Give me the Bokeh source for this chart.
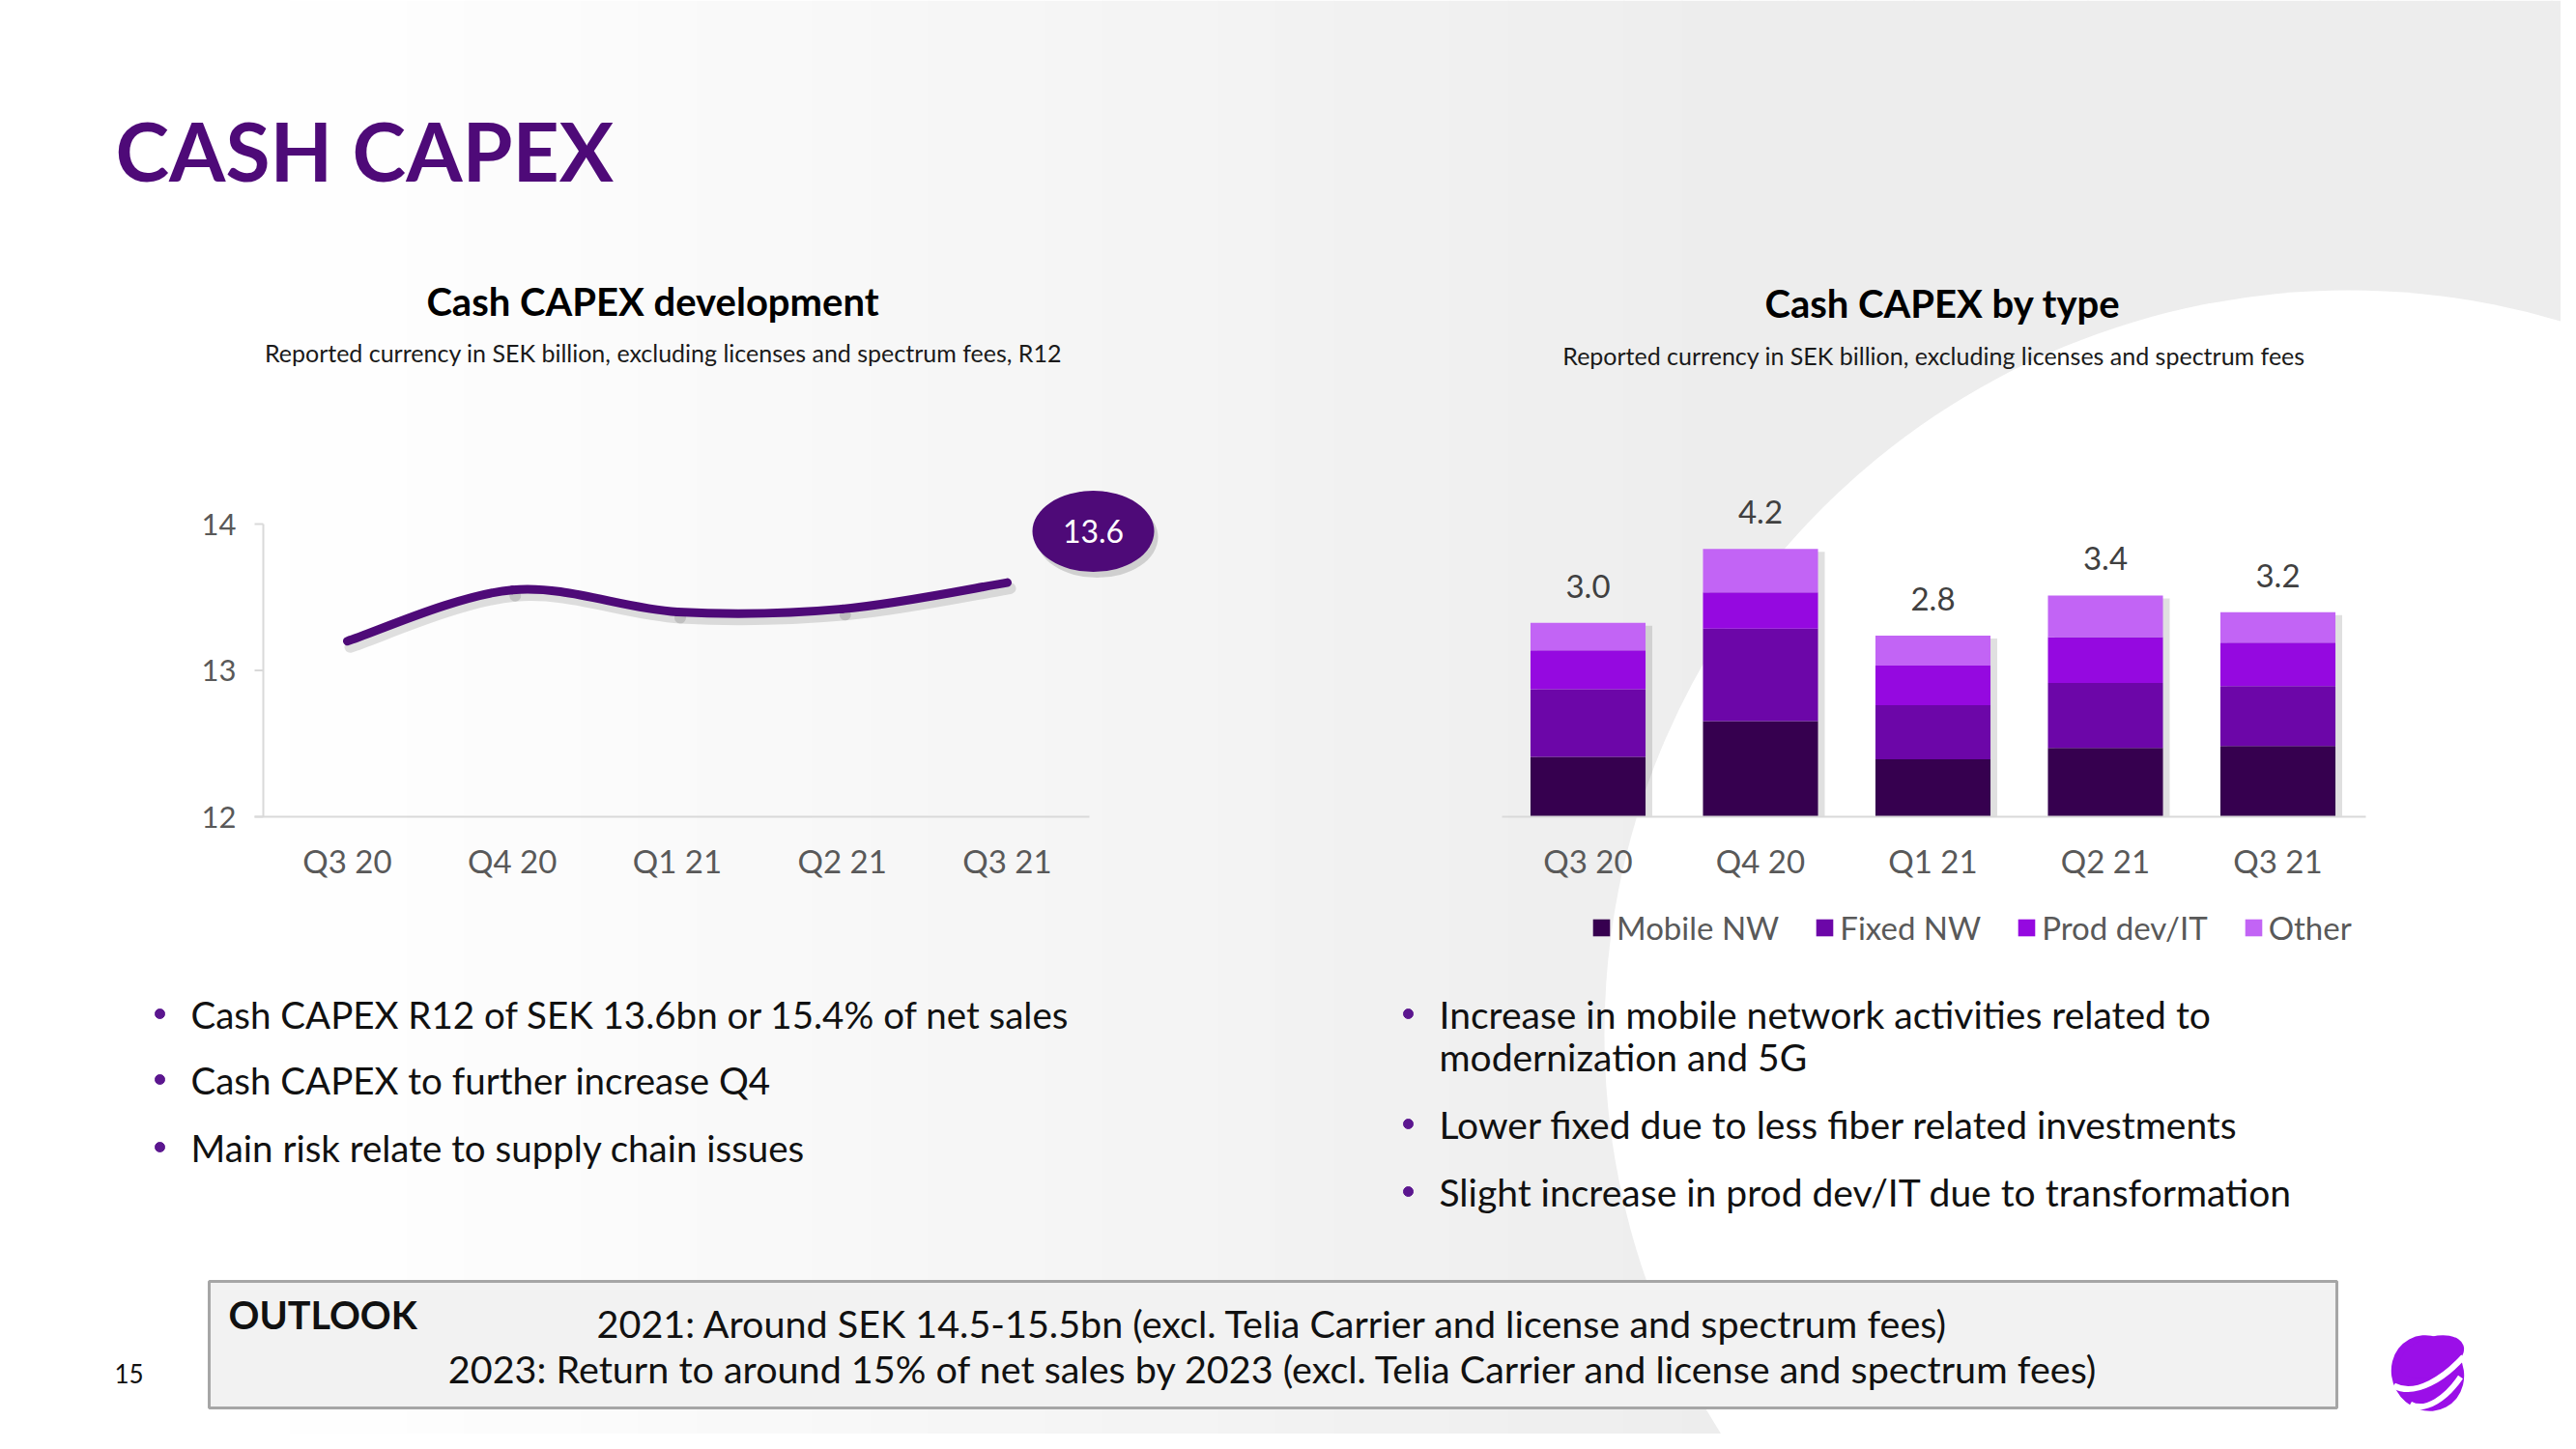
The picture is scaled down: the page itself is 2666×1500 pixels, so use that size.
import numpy as np
from bokeh.plotting import figure
from bokeh.models import Range1d, Legend, LegendItem, ColumnDataSource
from bokeh.core.properties import value
from bokeh.embed import file_html
from bokeh.resources import INLINE

# ---------------- data ----------------
quarters = ["Q3 20", "Q4 20", "Q1 21", "Q2 21", "Q3 21"]
capex_r12 = [13.2, 13.55, 13.4, 13.42, 13.6]
line_ticks = [12, 13, 14]

mobile_nw = [0.94, 1.50, 0.90, 1.08, 1.11]
fixed_nw = [1.06, 1.45, 0.85, 1.02, 0.94]
prod_dev_it = [0.61, 0.57, 0.62, 0.72, 0.68]
other = [0.43, 0.68, 0.47, 0.65, 0.48]
bar_totals = [3.0, 4.2, 2.8, 3.4, 3.2]
series_names = ["Mobile NW", "Fixed NW", "Prod dev/IT", "Other"]

page_title = "CASH CAPEX"
left_title = "Cash CAPEX development"
left_sub = "Reported currency in SEK billion, excluding licenses and spectrum fees, R12"
right_title = "Cash CAPEX by type"
right_sub = "Reported currency in SEK billion, excluding licenses and spectrum fees"
left_bullets = [
    ["Cash CAPEX R12 of SEK 13.6bn or 15.4% of net sales"],
    ["Cash CAPEX to further increase Q4"],
    ["Main risk relate to supply chain issues"],
]
right_bullets = [
    ["Increase in mobile network activities related to", "modernization and 5G"],
    ["Lower fixed due to less fiber related investments"],
    ["Slight increase in prod dev/IT due to transformation"],
]
outlook_head = "OUTLOOK"
outlook_lines = [
    "2021: Around SEK 14.5-15.5bn (excl. Telia Carrier and license and spectrum fees)",
    "2023: Return to around 15% of net sales by 2023 (excl. Telia Carrier and license and spectrum fees)",
]
page_number = "15"

# ---------------- styles ----------------
FONT = value("Lato")
PURPLE_DARK = "#4E0A78"
SERIES_COLORS = ["#36004F", "#6C06A8", "#9509E0", "#C264F5"]
GREY_TXT = "#595959"
AXIS_GREY = "#D9D9D9"

W, H = 2650, 1484
OX, OY = 0, 0

p = figure(width=W, height=H, x_range=Range1d(OX, OX + W), y_range=Range1d(OY + H, OY),
           output_backend="svg", toolbar_location=None, min_border=0,
           x_axis_type=None, y_axis_type=None)
p.outline_line_color = None
p.background_fill_color = "white"
p.border_fill_color = "white"


def lin_range(v0, px0, v1, px1, lo_px, hi_px):
    k = (v1 - v0) / (px1 - px0)
    return Range1d(v0 + (lo_px - px0) * k, v0 + (hi_px - px0) * k)


# line chart geometry (page px)
LX0, LXSTEP = 359, 170.75
LY12, LY14 = 845, 542
# bar chart geometry
BX0, BXSTEP = 1643, 178.5
BY0, BYUNIT = 845, 66.0

p.extra_x_ranges = {
    "lx": lin_range(0, LX0, 4, LX0 + 4 * LXSTEP, OX, OX + W),
    "bx": lin_range(0, BX0, 4, BX0 + 4 * BXSTEP, OX, OX + W),
}
p.extra_y_ranges = {
    "ly": lin_range(12, LY12, 14, LY14, OY + H, OY),
    "by": lin_range(0, BY0, 4, BY0 - 4 * BYUNIT, OY + H, OY),
}


def txt(x, y, s, size, color="#000000", align="left", bold=False, xr="default", yr="default", **kw):
    p.text(x=x, y=y, text=s, text_font=FONT, text_font_size=value(f"{size}px"),
           text_color=color, text_align=align, text_baseline="middle",
           text_font_style="bold" if bold else "normal",
           x_range_name=xr, y_range_name=yr, **kw)


# ---------------- background ----------------
edges = np.arange(0, 2700, 60)
greys = []
for e in edges:
    t = min(max((e - 250) / 1500.0, 0), 1)
    g = int(round(255 - 18 * t))
    greys.append("#%02x%02x%02x" % (g, g, g))
p.quad(left=edges, right=edges + 61, top=0, bottom=1500, fill_color=greys, line_color=None)
p.ellipse(x=[2430], y=[1070], width=[1540], height=[1540], fill_color="white", line_color=None)

# ---------------- titles ----------------
txt([119], [155], [page_title], 84, color=PURPLE_DARK, bold=True)
txt([675], [311], [left_title], 40, bold=True, align="center")
txt([686], [364], [left_sub], 25, align="center", color="#1a1a1a")
txt([2010], [313], [right_title], 40, bold=True, align="center")
txt([2001], [367], [right_sub], 25, align="center", color="#1a1a1a")

# ---------------- line chart ----------------
yt = np.array(line_ticks, dtype=float)
p.segment(x0=[272], y0=[yt.min()], x1=[272], y1=[yt.max()], line_color=AXIS_GREY, line_width=2,
          y_range_name="ly")
p.segment(x0=[263] * len(yt), y0=yt, x1=[272] * len(yt), y1=yt, line_color=AXIS_GREY, line_width=2,
          y_range_name="ly")
p.segment(x0=[263], y0=[yt.min()], x1=[1127], y1=[yt.min()], line_color=AXIS_GREY, line_width=2,
          y_range_name="ly")
txt([244] * len(yt), list(yt), [str(int(v)) for v in yt], 31, color=GREY_TXT, align="right", yr="ly")
txt(list(range(len(quarters))), [890] * len(quarters), quarters, 33, color=GREY_TXT, align="center", xr="lx")

# smooth curve through the data points (Catmull-Rom -> cubic Bezier)
n = len(capex_r12)
P = np.column_stack([np.arange(n, dtype=float), np.array(capex_r12, dtype=float)])
Pe = np.vstack([P[0], P, P[-1]])
seg = {k: [] for k in ["x0", "y0", "x1", "y1", "cx0", "cy0", "cx1", "cy1"]}
for i in range(n - 1):
    p0, p1, p2, p3 = Pe[i], Pe[i + 1], Pe[i + 2], Pe[i + 3]
    c0 = p1 + (p2 - p0) / 6.0
    c1 = p2 - (p3 - p1) / 6.0
    seg["x0"].append(p1[0]); seg["y0"].append(p1[1])
    seg["x1"].append(p2[0]); seg["y1"].append(p2[1])
    seg["cx0"].append(c0[0]); seg["cy0"].append(c0[1])
    seg["cx1"].append(c1[0]); seg["cy1"].append(c1[1])
# shadow (offset a few px right/down)
dx = 3 / LXSTEP
dy = -6 / ((LY12 - LY14) / 2.0)
sh = {k: (np.array(v) + (dx if k.startswith(("x", "cx")) else dy)) for k, v in seg.items()}
p.bezier(source=ColumnDataSource(sh), x0="x0", y0="y0", x1="x1", y1="y1", cx0="cx0", cy0="cy0",
         cx1="cx1", cy1="cy1", line_color="#000000", line_alpha=0.12, line_width=12, line_cap="round",
         x_range_name="lx", y_range_name="ly")
p.bezier(source=ColumnDataSource(seg), x0="x0", y0="y0", x1="x1", y1="y1", cx0="cx0", cy0="cy0",
         cx1="cx1", cy1="cy1", line_color=PURPLE_DARK, line_width=9, line_cap="round",
         x_range_name="lx", y_range_name="ly")

# last value bubble
last_i = n - 1
bub_x = last_i + 89 / LXSTEP
bub_y = capex_r12[-1] + 53 / ((LY12 - LY14) / 2.0)
p.ellipse(x=[bub_x + 4 / LXSTEP], y=[bub_y - 6 / 151.5], width=[126], height=[84], width_units="screen",
          height_units="screen", fill_color="#000000", fill_alpha=0.15, line_color=None,
          x_range_name="lx", y_range_name="ly")
p.ellipse(x=[bub_x], y=[bub_y], width=[126], height=[84], width_units="screen", height_units="screen",
          fill_color=PURPLE_DARK, line_color=None, x_range_name="lx", y_range_name="ly")
txt([bub_x], [bub_y], [f"{capex_r12[-1]:.1f}"], 32, color="white", align="center", xr="lx", yr="ly")

# ---------------- bar chart ----------------
xb = np.arange(len(quarters), dtype=float)
stack = np.vstack([mobile_nw, fixed_nw, prod_dev_it, other])
tops = stack.sum(axis=0)
p.vbar(x=xb + 7 / BXSTEP, top=tops - 3 / BYUNIT, bottom=0, width=0.667, fill_color="#000000",
       fill_alpha=0.12, line_color=None, x_range_name="bx", y_range_name="by")
src = ColumnDataSource(dict(x=xb, mobile=mobile_nw, fixed=fixed_nw, prod=prod_dev_it, other=other))
rs = p.vbar_stack(["mobile", "fixed", "prod", "other"], x="x", width=0.667, source=src,
                  fill_color=SERIES_COLORS, line_color=None, x_range_name="bx", y_range_name="by")
p.segment(x0=[1554], y0=[0], x1=[2448], y1=[0], line_color=AXIS_GREY, line_width=2, y_range_name="by")
txt(list(xb), list(tops), [f"{v:.1f}" for v in bar_totals], 33, color="#404040", align="center",
    xr="bx", yr="by", y_offset=-38)
txt(list(xb), [890] * len(quarters), quarters, 33, color=GREY_TXT, align="center", xr="bx")

legend = Legend(items=[LegendItem(label=nm, renderers=[r]) for nm, r in zip(series_names, rs)],
                orientation="horizontal", location=(1646 - OX, OY + H - 980),
                label_text_font=FONT.value,
                label_text_font_size="33px", label_text_color=GREY_TXT, glyph_width=22, glyph_height=22,
                label_standoff=5, spacing=36, padding=0, margin=0, background_fill_alpha=0,
                border_line_color=None)
p.add_layout(legend)

# ---------------- bullets ----------------
def bullets(items, x_dot, x_txt, ys, line_gap, size):
    for item, y in zip(items, ys):
        p.scatter(x=[x_dot], y=[y], size=10, color="#5B168F", marker="circle")
        for j, line in enumerate(item):
            txt([x_txt], [y + j * line_gap], [line], size, color="#111111")

bullets(left_bullets, 165, 197, [1049, 1117, 1187], 44, 38.5)
bullets(right_bullets, 1457, 1489, [1049, 1163, 1233], 44, 39)

# ---------------- outlook box ----------------
p.quad(left=[216], right=[2418], top=[1326], bottom=[1457], fill_color="#F2F2F2", line_color="#A6A6A6",
       line_width=3)
txt([236], [1360], [outlook_head], 39.5, bold=True, color="#111111")
txt([1317, 1318], [1369, 1416], outlook_lines, 39.5, align="center", color="#111111")

# page number
txt([133], [1421], [page_number], 26, align="center", color="#111111")

# ---------------- logo ----------------
LOGO = "#9B0FE8"
p.ellipse(x=[2512], y=[1421], width=[74], height=[80], angle=[0.5], fill_color=LOGO, line_color=None)
p.ellipse(x=[2516], y=[1404], width=[70], height=[40], angle=[0.35], fill_color=LOGO, line_color=None)
p.bezier(x0=[2477, 2494], y0=[1434, 1453], x1=[2549, 2546], y1=[1404, 1425], cx0=[2500, 2510],
         cy0=[1446, 1462], cx1=[2530, 2532], cy1=[1425, 1446], line_color="white", line_width=6)

open("out.html", "w").write(file_html(p, INLINE))
